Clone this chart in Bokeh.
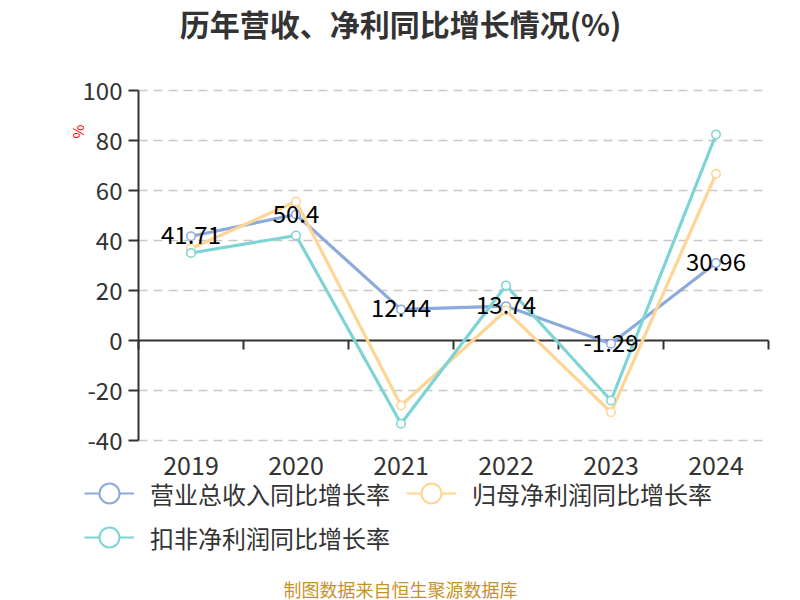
from bokeh.plotting import figure
from bokeh.models import ColumnDataSource, Label, Legend, LegendItem, Range1d
from bokeh.core.properties import value
from bokeh.embed import file_html
from bokeh.resources import INLINE

# data
years = ["2019", "2020", "2021", "2022", "2023", "2024"]
revenue_growth = [41.71, 50.4, 12.44, 13.74, -1.29, 30.96]
net_profit_growth = [36.8, 55.6, -26.0, 12.0, -28.7, 66.7]
deducted_profit_growth = [35.0, 42.0, -33.3, 22.0, -24.0, 82.4]
series_names = ["营业总收入同比增长率", "归母净利润同比增长率", "扣非净利润同比增长率"]
y_ticks = [-40, -20, 0, 20, 40, 60, 80, 100]

FONT = "Noto Sans CJK SC"
TEXT = "#333333"
colors = ["#8CAADB", "#FFD595", "#7ED4D4"]

# layout (pixels): the whole canvas is the plotting area, the chart box sits inside it
W, H = 800, 600
BOX_L, BOX_R, BOX_T, BOX_B = 138, 768, 90, 440
y_min, y_max = -40, 100
n = len(years)
sx = (BOX_R - BOX_L) / n               # px per category
sy = (BOX_B - BOX_T) / (y_max - y_min)  # px per percent

p = figure(width=W, height=H, output_backend="svg", toolbar_location=None,
           x_range=Range1d(-BOX_L / sx, (W - BOX_L) / sx),
           y_range=Range1d(y_min - (H - BOX_B) / sy, y_max + BOX_T / sy),
           x_axis_location=None, y_axis_location=None, min_border=0)
p.outline_line_color = None
p.grid.visible = False

xs = [i + 0.5 for i in range(n)]
bounds = list(range(n + 1))

# grid lines
grid_y = [t for t in y_ticks if t != 0]
p.segment(x0=[0] * len(grid_y), x1=[n] * len(grid_y), y0=grid_y, y1=grid_y,
          line_color="#c8c8c8", line_width=1.5, line_dash="9 6")

# y axis
p.segment(x0=[0], x1=[0], y0=[y_min], y1=[y_max], line_color=TEXT, line_width=2)
p.segment(x0=[0] * len(y_ticks), x1=[-10 / sx] * len(y_ticks), y0=y_ticks, y1=y_ticks,
          line_color=TEXT, line_width=2)
p.text(x=[0] * len(y_ticks), y=y_ticks, text=[str(t) for t in y_ticks], x_offset=-16,
       text_align="right", text_baseline="middle", text_color=TEXT,
       text_font_size="24px", text_font=value(FONT))

# zero line with category boundary ticks
p.segment(x0=[0], x1=[n], y0=[0], y1=[0], line_color=TEXT, line_width=2)
p.segment(x0=bounds, x1=bounds, y0=[0] * len(bounds), y1=[-9 / sy] * len(bounds),
          line_color=TEXT, line_width=2)

# x labels
p.text(x=xs, y=[y_min] * n, text=years, y_offset=25, text_align="center",
       text_baseline="middle", text_color=TEXT, text_font_size="25px", text_font=value(FONT))

# series
items = []
nan = float("nan")
for vals, name, c in zip([revenue_growth, net_profit_growth, deducted_profit_growth],
                         series_names, colors):
    src = ColumnDataSource(dict(x=xs, y=vals))
    p.line("x", "y", source=src, line_color=c, line_width=3.2)
    p.scatter("x", "y", source=src, size=8.5, fill_color="white", line_color=c, line_width=1.5)
    # legend-only glyphs (nothing drawn in the chart)
    lg = p.line(x=[nan], y=[nan], line_color=c, line_width=2)
    ls = p.scatter(x=[nan], y=[nan], fill_color="white", line_color=c, line_width=2)
    items.append(LegendItem(label=name, renderers=[lg, ls]))

# data labels for revenue growth
lab_src = ColumnDataSource(dict(x=xs, y=revenue_growth, t=[f"{v:g}" for v in revenue_growth]))
p.text("x", "y", text="t", source=lab_src, text_align="center", text_baseline="middle",
       y_offset=-1, text_color="black", text_font_size="24px", text_font=value(FONT))

# legends: two rows
def make_legend(its, loc):
    return Legend(items=its, orientation="horizontal", location=loc,
                  glyph_width=50, glyph_height=50, label_standoff=16, spacing=16,
                  padding=0, margin=0, border_line_color=None, background_fill_alpha=0,
                  label_text_font=FONT, label_text_font_size="24px",
                  label_text_color=TEXT, label_height=50)

p.add_layout(make_legend(items[:2], (84, H - 518)), "center")
p.add_layout(make_legend(items[2:], (84, H - 562)), "center")

# title, unit, source
p.add_layout(Label(x=W / 2, y=H - 22, x_units="screen", y_units="screen",
                   text="历年营收、净利同比增长情况(%)", text_font=FONT, text_font_size="30px",
                   text_font_style="bold", text_color=TEXT,
                   text_align="center", text_baseline="middle"))
p.add_layout(Label(x=77, y=H - 131, x_units="screen", y_units="screen", text="%",
                   angle=1.5708, text_font=FONT, text_font_size="15px", text_color="red",
                   text_align="center", text_baseline="middle"))
p.add_layout(Label(x=W / 2, y=H - 588, x_units="screen", y_units="screen",
                   text="制图数据来自恒生聚源数据库", text_font=FONT, text_font_size="18px",
                   text_color="#C8922A", text_align="center", text_baseline="middle"))

open("out.html", "w").write(file_html(p, INLINE))
